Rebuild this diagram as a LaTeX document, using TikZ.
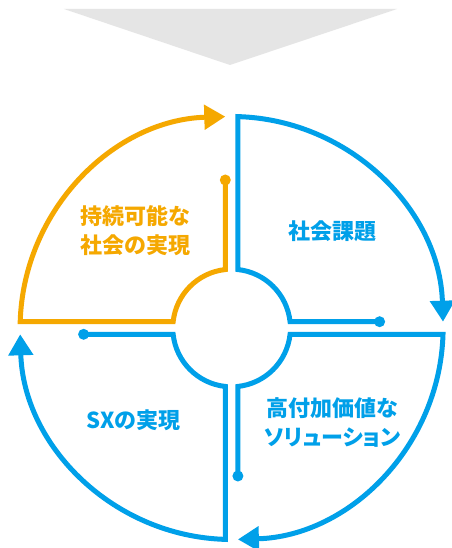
\documentclass[tikz,border=0pt]{standalone}
\usepackage{fontspec}
\newfontfamily\jp{Noto Sans CJK JP}
\newfontfamily\jpp{Noto Sans CJK JP}[RawFeature=+palt]
\usetikzlibrary{arrows.meta}
\definecolor{cblue}{HTML}{00A0E9}
\definecolor{corange}{HTML}{F5A800}
\definecolor{cgray}{HTML}{E5E5E5}
\begin{document}
\begin{tikzpicture}[x=1pt,y=1pt,
  ring/.style={line width=5pt, -{Triangle[length=21pt,width=24pt]}},
  lbl/.style={font=\jp\bfseries\fontsize{22}{29}\selectfont, align=center, inner sep=0pt},
]
\fill[white] (-231.6,-220) rectangle (219.4,328);
\useasboundingbox (-231.6,-220) rectangle (219.4,328);
\fill[cgray] (-167.6,319) -- (165.4,319) -- (-1.6,263) -- cycle;
\foreach \a/\c in {0/cblue,90/corange,180/cblue,270/cblue}{
 \begin{scope}[rotate=\a]
  \draw[ring,draw=\c] (148,6.3) -- (6.15:58.8pt)
     arc[start angle=6.15, end angle=83.85, radius=58.8pt]
     -- (88.29:211.5pt)
     arc[start angle=88.29, end angle=1.71, radius=211.5pt];
  \fill[\c] (148,6.3) circle (5.5pt);
 \end{scope}
}
\node[lbl, text=corange] (t2) at (-96.1,97.5) {持続可能な\\社会の実現};
\node[lbl, text=cblue] (t1) at (100.9,96.3) {社会課題};
\node[lbl, text=cblue] (t3) at (-98.3,-92) {SXの実現};
\node[lbl, text=cblue] (t4) at (100.9,-94.5) {高付加価値な\\{\jpp\bfseries ソリューション}};
\end{tikzpicture}
\end{document}
